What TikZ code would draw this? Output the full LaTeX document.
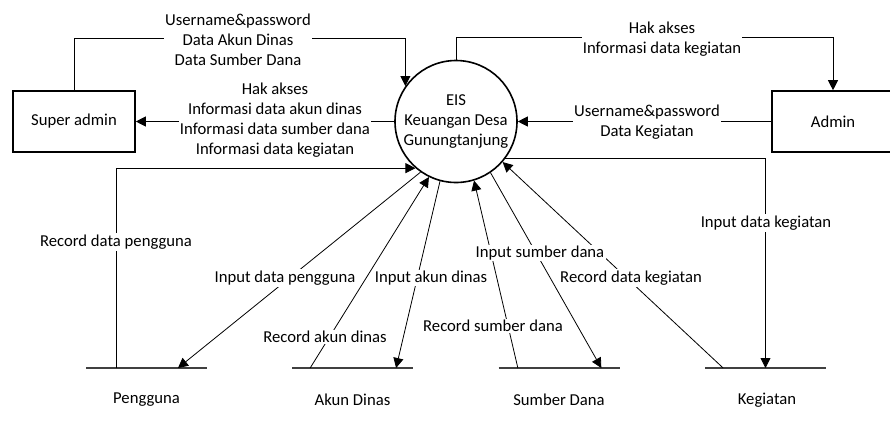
\documentclass[tikz,border=0pt]{standalone}
\usepackage{fontspec}
\setmainfont{Carlito}
\usetikzlibrary{arrows.meta,calc}

\begin{document}
\begin{tikzpicture}[x=0.75pt,y=-0.75pt,
	font=\fontsize{12.5}{15}\selectfont,
	entity/.style={draw,line width=1.2pt,minimum width=91.5pt,minimum height=45.75pt},
	proses/.style={draw,circle,line width=1.2pt,minimum size=91.5pt,inner sep=0pt,align=center},
	store/.style={inner sep=0pt,outer sep=0pt,minimum width=90.75pt},
	storeline/.style={line width=0.9pt,black!75},
	flow/.style={line width=0.6pt,-{Triangle[length=7.5pt,width=7.5pt]}},
	lbl/.style={fill=white,inner sep=1pt,align=center}]
	\useasboundingbox (0,0) rectangle (890,426);

	\node[proses] (eis) at (456,121.5) {EIS\\Keuangan Desa\\Gunungtanjung};
	\node[entity] (sa) at (74,121.5) {Super admin};
	\node[entity] (adm) at (833,121.5) {Admin};

	% data store
	\node[store] (pg) at (146.5,368) {};
	\node[store] (ad) at (352.5,368) {};
	\node[store] (sd) at (559,368) {};
	\node[store] (kg) at (765.5,368) {};
	\draw[storeline] (pg.west) -- (pg.east);
	\draw[storeline] (ad.west) -- (ad.east);
	\draw[storeline] (sd.west) -- (sd.east);
	\draw[storeline] (kg.west) -- (kg.east);
	\node (pgT) at (146.5,400) {Pengguna};
	\node (adT) at (352.5,400) {Akun Dinas};
	\node (sdT) at (559,400) {Sumber Dana};
	\node (kgT) at (767,400) {Kegiatan};

	\coordinate (pgR) at ($(pg.west)!0.25!(pg.east)$);
	\coordinate (pgI) at ($(pg.west)!0.76!(pg.east)$);
	\coordinate (adR) at ($(ad.west)!0.15!(ad.east)$);
	\coordinate (adI) at ($(ad.west)!0.86!(ad.east)$);
	\coordinate (sdR) at ($(sd.west)!0.16!(sd.east)$);
	\coordinate (sdI) at ($(sd.west)!0.85!(sd.east)$);
	\coordinate (kgR) at ($(kg.west)!0.15!(kg.east)$);

	% entitas
	\draw[flow] (sa.north) -- ++(0,-52) -| (eis.145);
	\draw[flow] (eis.180) -- (sa.east);
	\draw[flow] (eis.90) -- ++(0,-22) -| (adm.north);
	\draw[flow] (adm.west) -- (eis.0);

	% penyimpanan
	\draw[flow] (pgR) |- (eis.229);
	\draw[flow] (eis.235) -- (pgI);
	\draw[flow] (adR) -- (eis.244);
	\draw[flow] (eis.255) -- (adI);
	\draw[flow] (sdR) -- (eis.287);
	\draw[flow] (eis.304) -- (sdI);
	\draw[flow] (kgR) -- (eis.319);
	\draw[flow] (eis.323) -| (kg.center);

	\node[lbl] (l1) at (238,39.5) {Username\&password\\Data Akun Dinas\\Data Sumber Dana};
	\node[lbl] (l2) at (275,120.5) {Hak akses\\Informasi data akun dinas\\Informasi data sumber dana\\Informasi data kegiatan};
	\node[lbl] (l3) at (662,39) {Hak akses\\Informasi data kegiatan};
	\node[lbl] (l4) at (647,122) {Username\&password\\Data Kegiatan};
	\node[lbl] (l5) at (116,242) {Record data pengguna};
	\node[lbl] (l6) at (285,278) {Input data pengguna};
	\node[lbl] (l7) at (325,337) {Record akun dinas};
	\node[lbl] (l8) at (431,278) {Input akun dinas};
	\node[lbl] (l9) at (493,326) {Record sumber dana};
	\node[lbl] (l10) at (540,253) {Input sumber dana};
	\node[lbl] (l11) at (631,278) {Record data kegiatan};
	\node[lbl] (l12) at (766,223) {Input data kegiatan};
\end{tikzpicture}
\end{document}
